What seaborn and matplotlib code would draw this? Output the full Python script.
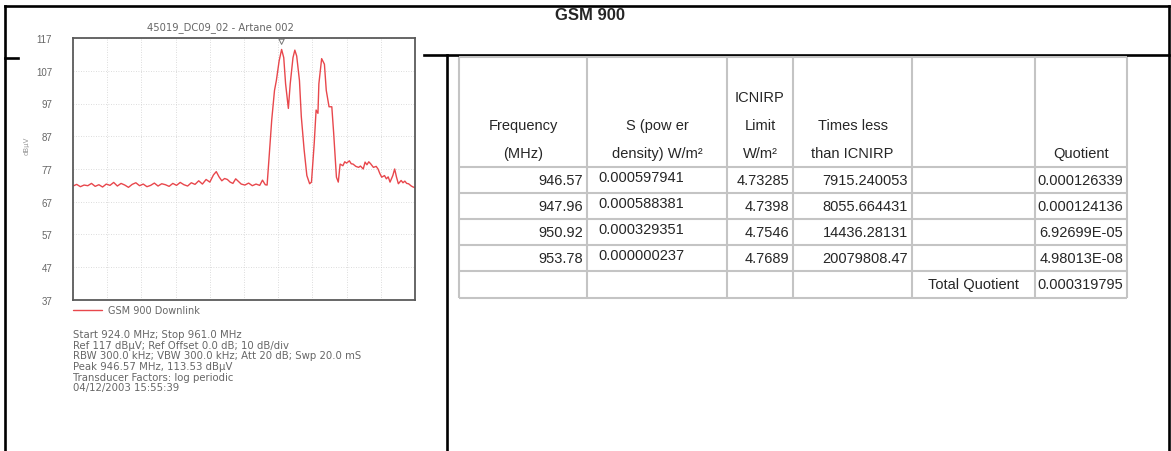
import numpy as np
import pandas as pd
import matplotlib
matplotlib.use("Agg")
import matplotlib.pyplot as plt
import seaborn as sns

# ===============================
# Spectrum trace
# ===============================
freq_mhz = [924.0, 924.4, 924.8, 925.2, 925.6, 926.0, 926.4, 926.8, 927.2, 927.6,
            928.0, 928.4, 928.8, 929.2, 929.6, 930.0, 930.4, 930.8, 931.2, 931.6,
            932.0, 932.4, 932.8, 933.2, 933.6, 934.0, 934.4, 934.8, 935.2, 935.6,
            936.0, 936.4, 936.8, 937.2, 937.6, 938.0, 938.4, 938.8, 939.2, 939.5,
            939.8, 940.1, 940.4, 940.7, 941.0, 941.3, 941.6, 941.9, 942.2, 942.6,
            943.0, 943.4, 943.8, 944.2, 944.5, 944.8, 945.0, 945.2, 945.5, 945.8,
            946.0, 946.3, 946.57, 946.8, 947.0, 947.3, 947.5, 947.8, 948.0, 948.2,
            948.5, 948.7, 949.0, 949.3, 949.6, 949.8, 950.1, 950.3, 950.5, 950.6,
            950.9, 951.2, 951.4, 951.7, 952.0, 952.2, 952.5, 952.7, 952.9, 953.2,
            953.4, 953.6, 953.9, 954.1, 954.3, 954.6, 954.9, 955.1, 955.4, 955.6,
            955.8, 956.0, 956.2, 956.5, 956.8, 957.0, 957.2, 957.4, 957.7, 957.9,
            958.1, 958.3, 958.6, 958.8, 959.0, 959.2, 959.5, 959.7, 959.9, 960.1,
            960.3, 960.6, 960.8, 961.0]
level_dbuv = [71.8, 72.3, 71.6, 72.1, 71.9, 72.6, 71.7, 72.2, 71.5, 72.4,
              72.0, 72.9, 71.8, 72.6, 72.1, 71.4, 72.3, 72.8, 71.9, 72.4,
              71.6, 72.0, 72.7, 71.8, 72.5, 72.2, 71.7, 72.6, 72.0, 72.9,
              72.2, 71.8, 72.8, 72.3, 73.4, 72.4, 73.8, 73.0, 75.2, 76.2,
              74.6, 73.4, 74.1, 73.8, 73.0, 72.6, 74.0, 73.2, 72.4, 72.1,
              72.7, 71.9, 72.4, 72.0, 73.6, 72.2, 72.1, 80.0, 92.0, 101.0,
              104.0, 110.0, 113.5, 111.0, 103.0, 95.5, 103.0, 111.0, 113.3, 111.5,
              104.0, 93.0, 83.0, 75.0, 72.5, 73.0, 85.0, 95.0, 94.0, 103.0,
              110.7, 109.0, 101.0, 96.0, 96.0, 88.0, 74.5, 73.0, 78.5, 78.0,
              79.2, 78.8, 79.5, 78.6, 78.5, 77.8, 77.5, 77.9, 77.0, 79.1,
              78.3, 79.2, 78.6, 77.5, 77.8, 77.0, 75.6, 74.5, 75.0, 74.0,
              74.6, 73.0, 75.0, 77.0, 74.5, 72.5, 73.5, 72.8, 73.3, 72.6,
              72.5, 71.8, 71.5, 71.3]

y_ticks = [37, 47, 57, 67, 77, 87, 97, 107, 117]
f_start, f_stop = 924.0, 961.0
peak_freq, peak_level = 946.57, 113.53

chart_title = "45019_DC09_02 - Artane 002"
trace_name = "GSM 900 Downlink"
info_lines = [
    "Start 924.0 MHz; Stop 961.0 MHz",
    "Ref 117 dBµV; Ref Offset 0.0 dB; 10 dB/div",
    "RBW 300.0 kHz; VBW 300.0 kHz; Att 20 dB; Swp 20.0 mS",
    "Peak 946.57 MHz, 113.53 dBµV",
    "Transducer Factors: log periodic",
    "04/12/2003 15:55:39",
]

# ===============================
# Exposure table (fifth column of the sheet only holds the total label)
# ===============================
table_title = "GSM 900"
header_cells = [
    ["", "Frequency", "(MHz)"],
    ["", "S (pow er", "density) W/m²"],
    ["ICNIRP", "Limit", "W/m²"],
    ["", "Times less", "than ICNIRP"],
    ["", "", ""],
    ["", "", "Quotient"],
]
freq_col = [946.57, 947.96, 950.92, 953.78]
s_col = ["0.000597941", "0.000588381", "0.000329351", "0.000000237"]
limit_col = [4.73285, 4.7398, 4.7546, 4.7689]
times_col = [7915.240053, 8055.664431, 14436.28131, 20079808.47]
quot_col = ["0.000126339", "0.000124136", "6.92699E-05", "4.98013E-08"]
total_label = "Total Quotient"
total_value = "0.000319795"

# ===============================
# Figure
# ===============================
sns.set_style("white")
plt.rcParams["font.family"] = ["Liberation Sans", "DejaVu Sans"]

W, H = 1171, 452
fig = plt.figure(figsize=(W / 100, H / 100), dpi=100)
fig.patch.set_facecolor("white")

# page overlay in pixel units (frames + table)
ov = fig.add_axes([0, 0, 1, 1])
ov.set_xlim(0, W)
ov.set_ylim(H, 0)
ov.axis("off")

black = dict(color="black", lw=1.9, solid_capstyle="projecting")
ov.plot([5, 1169], [7, 7], **black)
ov.plot([5, 5], [7, H], **black)
ov.plot([1169, 1169], [7, H], **black)
ov.plot([5, 18], [59, 59], **black)
ov.plot([424, 1169], [56, 56], **black)
ov.plot([447, 447], [56, H], **black)

ov.text(590, 15, table_title, ha="center", va="center",
        fontsize=12, fontweight="bold")

col_edges = [459, 587, 727, 793, 912, 1035, 1127]
row_edges = [58, 168, 194, 220, 246, 272, 299]
head_lines = [98, 126, 154]
grid_kw = dict(color="#c4c4c4", lw=1.5)
ov.hlines(row_edges, col_edges[0], col_edges[-1], **grid_kw)
ov.vlines(col_edges, row_edges[0], row_edges[-1], **grid_kw)

fs = 10.5
for c, lines in enumerate(header_cells):
    xc = (col_edges[c] + col_edges[c + 1]) / 2
    for txt, yy in zip(lines, head_lines):
        if txt:
            ov.text(xc, yy, txt, ha="center", va="center", fontsize=fs)

pad = 4
for r in range(len(freq_col)):
    yc = (row_edges[r + 1] + row_edges[r + 2]) / 2
    ov.text(col_edges[1] - pad, yc, f"{freq_col[r]:.2f}", ha="right", va="center", fontsize=fs)
    ov.text(col_edges[1] + 11, yc - 3, s_col[r], ha="left", va="center", fontsize=fs)
    ov.text(col_edges[3] - pad, yc, str(limit_col[r]), ha="right", va="center", fontsize=fs)
    ov.text(col_edges[4] - pad, yc, str(times_col[r]), ha="right", va="center", fontsize=fs)
    ov.text(col_edges[6] - pad, yc, quot_col[r], ha="right", va="center", fontsize=fs)
yc = (row_edges[-2] + row_edges[-1]) / 2
ov.text((col_edges[4] + col_edges[5]) / 2, yc, total_label, ha="center", va="center", fontsize=fs)
ov.text(col_edges[6] - pad, yc, total_value, ha="right", va="center", fontsize=fs)

# spectrum analyser plot
left, top, right, bottom = 73, 39, 415, 301
ax = fig.add_axes([left / W, 1 - bottom / H, (right - left) / W, (bottom - top) / H])
trace = pd.DataFrame({"freq": freq_mhz, "level": level_dbuv})
sns.lineplot(data=trace, x="freq", y="level", ax=ax, color="#e8474c",
             lw=1.0, label=trace_name)
ax.scatter([peak_freq], [peak_level + 2.3], marker="v", s=14,
           facecolors="none", edgecolors="#777777", lw=0.7, zorder=5)

ax.set_xlim(f_start, f_stop)
ax.set_ylim(y_ticks[0], y_ticks[-1])
ax.set_yticks(y_ticks)
ax.set_xticks(np.linspace(f_start, f_stop, 11))
ax.set_xticklabels([])
ax.set_xlabel("")
ax.set_ylabel("")
ax.tick_params(length=0, labelsize=7, labelcolor="#666666", pad=15)
ax.grid(True, color="#d0d0d0", lw=0.6, linestyle=(0, (1, 2)))
for sp in ax.spines.values():
    sp.set_color("#5a5a5a")
    sp.set_linewidth(1.3)

small = dict(family="DejaVu Sans", color="#666666")
ax.legend(loc="upper left", bbox_to_anchor=(0, -0.02), frameon=False,
          prop={"family": "DejaVu Sans", "size": 7}, labelcolor="#666666",
          handlelength=3.0, handletextpad=0.6, borderaxespad=0, borderpad=0)

fig.text(220 / W, 1 - 28 / H, chart_title,
         ha="center", va="center", fontsize=7.2, **small)
fig.text(27 / W, 1 - 146 / H, "dBµV", rotation=90, ha="center", va="center",
         fontsize=5, family="DejaVu Sans", color="#999999")
fig.text(left / W, 1 - 330 / H, "\n".join(info_lines), ha="left", va="top",
         fontsize=7.3, linespacing=1.08, **small)

fig.savefig("out.png", dpi=100, facecolor="white")
